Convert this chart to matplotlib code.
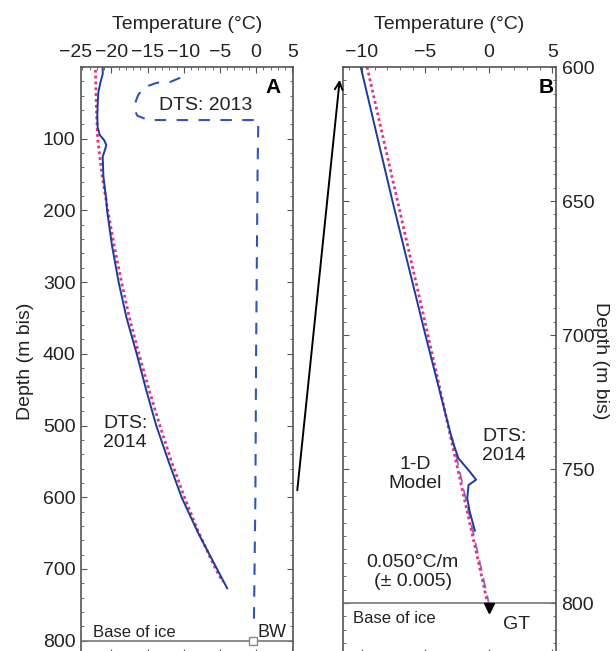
import numpy as np
import matplotlib
matplotlib.use("Agg")
import matplotlib.pyplot as plt
from matplotlib.ticker import MultipleLocator
from matplotlib.patches import FancyArrowPatch

plt.rcParams['font.family'] = ['Liberation Sans', 'DejaVu Sans']

# Panel A: full borehole profile
dts2014_a_depth = [2, 10, 21, 35, 53, 70, 84, 95, 102, 109, 116, 125, 153, 186, 200, 250,
                   300, 350, 400, 450, 500, 550, 600, 650, 700, 727]
dts2014_a_temp = [-21.2, -21.2, -21.5, -21.8, -21.9, -21.95, -21.9, -21.6, -21.0, -20.7,
                  -20.9, -21.2, -21.1, -20.7, -20.6, -19.9, -19.0, -17.9, -16.5, -15.2,
                  -13.8, -12.1, -10.3, -8.0, -5.4, -4.0]

model_a_depth = [4, 50, 100, 150, 200, 250, 300, 350, 400, 450, 500, 550, 600, 650, 700, 718]
model_a_temp = [-22.2, -22.1, -21.9, -21.3, -20.5, -19.6, -18.6, -17.5, -16.2, -14.8,
                -13.3, -11.7, -9.9, -7.9, -5.6, -4.6]

dts2013_depth = [15, 21, 22, 28, 39, 50, 60, 68, 74, 74, 74, 79, 150, 400, 600, 774]
dts2013_temp = [-10.5, -11.9, -13.7, -15.4, -16.3, -16.7, -16.8, -16.4, -14.9, -7.7,
                0.3, 0.3, 0.2, 0.0, -0.1, -0.3]

# Panel B: lowermost section
dts2014_b_depth = [600, 650, 700, 739, 746, 751, 754, 756, 761, 766, 773]
dts2014_b_temp = [-10.1, -7.6, -5.0, -2.9, -2.4, -1.5, -1.0, -1.6, -1.7, -1.5, -1.1]

model_b_depth = [600, 700, 800]
model_b_temp = [-9.6, -4.8, -0.1]

gradient_depth = [738, 770, 800]
gradient_temp = [-2.9, -1.4, 0.0]

base_of_ice = 800
bw_point = (-0.4, 800)
gt_point = (0.0, 802)

c_solid = '#1d3b98'
c_2013 = '#2d56b5'
c_model = '#e23283'
c_grad = '#8a6cc4'
c_spine = '#555555'
c_text = '#222222'

fig = plt.figure(figsize=(6.16, 6.51), dpi=100)
axA = fig.add_axes([81 / 616, -4 / 651, 212 / 616, 588 / 651])
axB = fig.add_axes([343 / 616, -4 / 651, 213 / 616, 588 / 651])


def style(ax, side):
    for s in ax.spines.values():
        s.set_color(c_spine)
        s.set_linewidth(1.2)
    ax.tick_params(which='both', direction='in', top=True, bottom=True, left=True, right=True,
                   colors=c_spine, labelcolor=c_text, labelsize=14, pad=4)
    ax.tick_params(which='major', length=4)
    ax.tick_params(which='minor', length=2)
    ax.tick_params(labeltop=True, labelbottom=False)
    ax.xaxis.set_label_position('top')
    ax.set_xlabel('Temperature (°C)', fontsize=14, labelpad=11, color=c_text)
    if side == 'right':
        ax.tick_params(labelleft=False, labelright=True)
        ax.yaxis.set_label_position('right')
        ax.set_ylabel('Depth (m bis)', fontsize=14, rotation=270, labelpad=11, color=c_text)
    else:
        ax.set_ylabel('Depth (m bis)', fontsize=14, labelpad=6, color=c_text)


# ---- Panel A
axA.plot(dts2013_temp, dts2013_depth, color=c_2013, lw=1.5, ls=(0, (5.5, 5)))
axA.plot(model_a_temp, model_a_depth, color=c_model, lw=2.0, ls=(0, (1, 1.1)))
axA.plot(dts2014_a_temp, dts2014_a_depth, color=c_solid, lw=1.4)
axA.axhline(base_of_ice, color='#777777', lw=1.2)
axA.plot(*bw_point, marker='s', ms=6, mfc='white', mec='#888888', mew=1, clip_on=False)
axA.set_xlim(-24.2, 5.1)
axA.set_ylim(820, 0)
axA.xaxis.set_major_locator(MultipleLocator(5))
axA.xaxis.set_minor_locator(MultipleLocator(1))
axA.yaxis.set_minor_locator(MultipleLocator(20))
axA.set_yticks([100, 200, 300, 400, 500, 600, 700, 800])
style(axA, 'left')
# -25 sits just outside the axis limit, so label it by hand like the other top ticks
axA.annotate('\u221225', xy=(-25, 1.0), xycoords=('data', 'axes fraction'),
             xytext=(0, 4), textcoords='offset points', fontsize=14,
             ha='center', va='bottom', color=c_text, annotation_clip=False)
axA.text(-7.0, 53, 'DTS: 2013', fontsize=14, ha='center', va='center', color=c_text)
axA.text(-21.1, 511, 'DTS:\n2014', fontsize=14, ha='left', va='center', linespacing=1.15,
         color=c_text)
axA.text(-22.6, 789, 'Base of ice', fontsize=12, ha='left', va='center', color=c_text)
axA.text(0.15, 789, 'BW', fontsize=13, ha='left', va='center', color=c_text)
axA.text(2.3, 28, 'A', fontsize=15, fontweight='bold', ha='center', va='center')

# ---- Panel B
axB.plot(gradient_temp, gradient_depth, color=c_grad, lw=1.3, ls=(0, (6, 4)))
axB.plot(model_b_temp, model_b_depth, color=c_model, lw=2.0, ls=(0, (1, 1.1)))
axB.plot(dts2014_b_temp, dts2014_b_depth, color=c_solid, lw=1.4)
axB.axhline(base_of_ice, color='#777777', lw=1.2)
axB.plot(*gt_point, marker='v', ms=7, color='black', clip_on=False)
axB.set_xlim(-11.5, 5.3)
axB.set_ylim(819.4, 600)
axB.xaxis.set_major_locator(MultipleLocator(5))
axB.xaxis.set_minor_locator(MultipleLocator(1))
axB.yaxis.set_major_locator(MultipleLocator(50))
axB.yaxis.set_minor_locator(MultipleLocator(5))
style(axB, 'right')
axB.text(-0.5, 741.5, 'DTS:\n2014', fontsize=14, ha='left', va='center', linespacing=1.15,
         color=c_text)
axB.text(-5.8, 752, '1-D\nModel', fontsize=14, ha='center', va='center', linespacing=1.15,
         color=c_text)
axB.text(-6.0, 788.5, '0.050°C/m\n(± 0.005)', fontsize=14, ha='center', va='center',
         linespacing=1.15, color=c_text)
axB.text(-10.7, 805.6, 'Base of ice', fontsize=12, ha='left', va='center', color=c_text)
axB.text(2.2, 808, 'GT', fontsize=14, ha='center', va='center', color=c_text)
axB.text(4.5, 607.5, 'B', fontsize=15, fontweight='bold', ha='center', va='center')

# zoom arrow from panel A into panel B
arrow = FancyArrowPatch((297 / 616, 1 - 493 / 651), (340 / 616, 1 - 77 / 651),
                        transform=fig.transFigure, arrowstyle='->', mutation_scale=14,
                        color='black', lw=1.4)
fig.patches.append(arrow)

fig.savefig('out.png', dpi=100)
